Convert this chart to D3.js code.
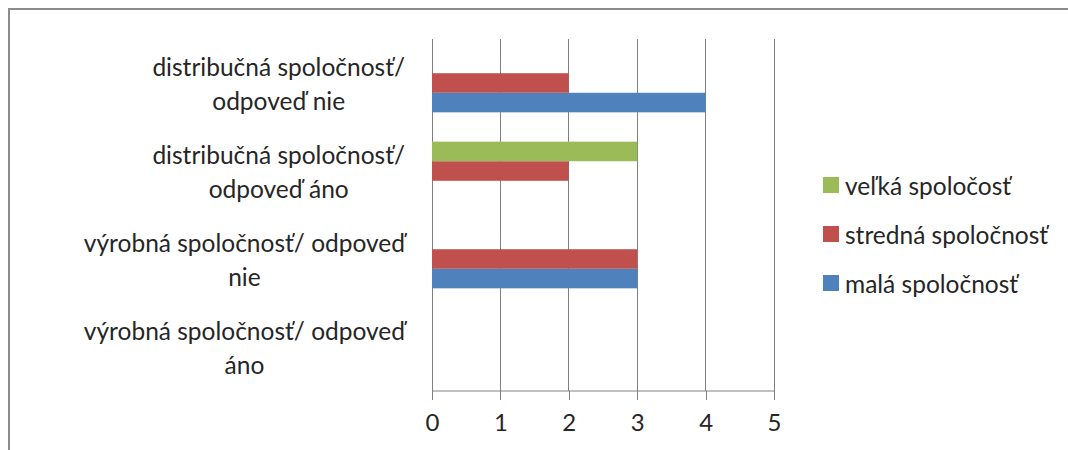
<!DOCTYPE html>
<html>
<head>
<meta charset="utf-8">
<script src="https://cdn.jsdelivr.net/npm/d3@7"></script>
<style>
  html, body { margin: 0; padding: 0; background: #fff; }
  svg { display: block; }
  text { font-family: Lato, "Open Sans", sans-serif; fill: #262626; }
</style>
</head>
<body>
<svg id="chart" width="1068" height="450"></svg>
<script>
// Categories, listed bottom to top as on the value axis
const categories = [
  ["výrobná spoločnosť/ odpoveď", "áno"],
  ["výrobná spoločnosť/ odpoveď", "nie"],
  ["distribučná spoločnosť/", "odpoveď áno"],
  ["distribučná spoločnosť/", "odpoveď nie"]
];
const seriesNames = ["malá spoločnosť", "stredná spoločnosť", "veľká spoločosť"];
const seriesColors = ["#4f81bd", "#c0504d", "#9bbb59"];
// values per series, aligned with categories (null = no bar)
const malaValues    = [null, 3, null, 4];
const strednaValues = [null, 3, 2, 2];
const velkaValues   = [null, null, 3, null];
const tickValues = [0, 1, 2, 3, 4, 5];

const series = [malaValues, strednaValues, velkaValues];

const svg = d3.select("#chart");

// outer chart frame
svg.append("rect")
  .attr("x", 9).attr("y", 9)
  .attr("width", 1100).attr("height", 500)
  .attr("fill", "none").attr("stroke", "#8c8c8c").attr("stroke-width", 2);

const plot = { left: 432, right: 774, top: 39, bottom: 391 };

const x = d3.scaleLinear().domain([0, 5]).range([plot.left, plot.right]);
// bottom-to-top category bands
const y = d3.scaleBand()
  .domain(d3.range(categories.length))
  .range([plot.bottom, plot.top])
  .paddingInner(0).paddingOuter(0);
// series inside each band: the first series sits lowest
const bandInner = d3.scaleBand()
  .domain(d3.range(series.length))
  .range([y.bandwidth(), 0])
  .paddingInner(0)
  .paddingOuter(0.75);

// vertical gridlines
svg.append("g")
  .selectAll("line")
  .data(tickValues)
  .join("line")
  .attr("x1", d => x(d)).attr("x2", d => x(d))
  .attr("y1", plot.top).attr("y2", plot.bottom)
  .attr("stroke", "#808080").attr("stroke-width", 1)
  .attr("shape-rendering", "crispEdges");

// bars
const barG = svg.append("g");
series.forEach((vals, si) => {
  barG.selectAll(null)
    .data(vals.map((v, ci) => ({ v, ci })).filter(d => d.v != null))
    .join("rect")
    .attr("x", x(0))
    .attr("y", d => y(d.ci) + bandInner(si))
    .attr("width", d => x(d.v) - x(0))
    .attr("height", bandInner.bandwidth())
    .attr("fill", seriesColors[si]);
});

// value axis
const xAxis = d3.axisBottom(x).tickValues(tickValues).tickSize(9).tickPadding(14).tickFormat(d3.format("d"));
const xg = svg.append("g")
  .attr("transform", `translate(0,${plot.bottom})`)
  .call(xAxis);
xg.select(".domain").attr("stroke", "#808080").attr("d", `M${plot.left},0H${plot.right}`);
xg.selectAll(".tick line").attr("stroke", "#808080").attr("shape-rendering", "crispEdges");
xg.selectAll(".tick text").attr("font-size", 24).attr("font-family", "Lato, sans-serif").attr("fill", "#262626");

// category labels: block right-aligned to the axis, each line centred in the block
const labelRight = 405;
const lineGap = 34;
const catG = svg.append("g");
categories.forEach((lines, ci) => {
  const cy = y(ci) + y.bandwidth() / 2;
  const g = catG.append("g");
  const texts = lines.map((ln, li) => g.append("text")
    .attr("font-size", 24.5)
    .attr("text-anchor", "middle")
    .attr("dominant-baseline", "central")
    .attr("y", cy + (li - (lines.length - 1) / 2) * lineGap)
    .text(ln));
  const w = d3.max(texts, t => t.node().getComputedTextLength());
  texts.forEach(t => t.attr("x", labelRight - w / 2));
});

// legend, top entry is the last series
const legend = svg.append("g");
const legendY = [185, 234, 283];
seriesNames.slice().reverse().forEach((name, i) => {
  const si = seriesNames.length - 1 - i;
  legend.append("rect")
    .attr("x", 823).attr("y", legendY[i] - 8)
    .attr("width", 16).attr("height", 16)
    .attr("fill", seriesColors[si]);
  legend.append("text")
    .attr("x", 845).attr("y", legendY[i])
    .attr("dominant-baseline", "central")
    .attr("font-size", 24.5)
    .text(name);
});
</script>
</body>
</html>
